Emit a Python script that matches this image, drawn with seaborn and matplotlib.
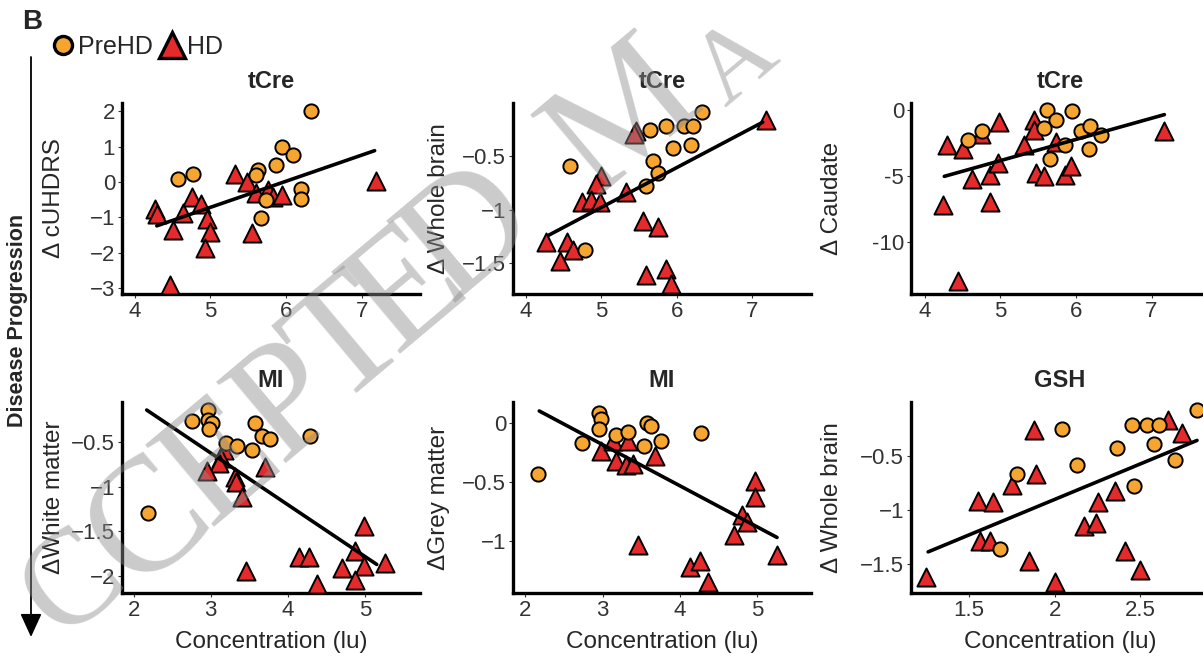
import pandas as pd
import seaborn as sns
import matplotlib.pyplot as plt
from matplotlib.lines import Line2D

# ----- data -----
# tCre vs delta cUHDRS
p1_pre_x = [4.57, 4.77, 6.33, 5.95, 6.09, 5.86, 5.63, 5.60, 6.20, 6.20, 5.74, 5.67]
p1_pre_y = [0.09, 0.24, 2.00, 1.00, 0.77, 0.47, 0.35, 0.21, -0.20, -0.48, -0.50, -1.02]
p1_hd_x = [4.26, 4.29, 4.51, 4.63, 4.75, 4.88, 4.96, 4.99, 4.93, 4.46, 5.32, 5.48, 5.60, 5.76, 5.83, 5.94, 5.55, 7.19]
p1_hd_y = [-0.76, -0.90, -1.35, -0.88, -0.43, -0.61, -1.05, -1.40, -1.87, -2.91, 0.24, 0.00, -0.31, -0.22, -0.41, -0.36, -1.44, 0.02]
p1_fit_x = [4.29, 7.17]
p1_fit_y = [-1.24, 0.89]

# tCre vs delta whole brain
p2_pre_x = [6.33, 5.64, 5.86, 6.09, 6.21, 5.95, 6.19, 5.68, 5.75, 5.59, 4.58, 4.78]
p2_pre_y = [-0.08, -0.25, -0.22, -0.22, -0.22, -0.42, -0.39, -0.54, -0.66, -0.78, -0.59, -1.38]
p2_hd_x = [5.46, 5.44, 7.18, 5.00, 4.93, 5.33, 4.74, 4.87, 4.98, 4.27, 4.54, 4.63, 4.45, 5.55, 5.75, 5.59, 5.86, 5.93]
p2_hd_y = [-0.26, -0.29, -0.16, -0.68, -0.76, -0.83, -0.93, -0.91, -0.93, -1.30, -1.30, -1.38, -1.48, -1.11, -1.16, -1.61, -1.56, -1.70]
p2_fit_x = [4.30, 7.14]
p2_fit_y = [-1.24, -0.18]

# tCre vs delta caudate
p3_pre_x = [5.62, 5.74, 5.95, 5.58, 4.57, 4.76, 6.07, 6.19, 6.33, 5.86, 6.18, 5.66]
p3_pre_y = [0.0, -0.75, -0.08, -1.33, -2.25, -1.55, -1.58, -1.2, -1.88, -2.63, -2.95, -3.68]
p3_hd_x = [4.29, 4.51, 4.75, 4.99, 4.62, 4.86, 4.97, 4.24, 4.86, 4.44, 5.32, 5.45, 5.45, 5.74, 5.47, 5.58, 5.85, 5.94, 7.17]
p3_hd_y = [-2.6, -2.95, -1.8, -0.9, -5.2, -4.9, -4.0, -7.2, -6.95, -12.9, -2.6, -0.75, -1.5, -2.4, -4.75, -5.0, -4.9, -4.2, -1.6]
p3_fit_x = [4.26, 7.17]
p3_fit_y = [-5.0, -0.33]

# MI vs delta white matter
p4_pre_x = [2.76, 2.97, 2.97, 3.01, 2.98, 3.20, 3.34, 3.54, 3.57, 3.66, 3.77, 4.29, 2.19]
p4_pre_y = [-0.26, -0.14, -0.25, -0.29, -0.35, -0.51, -0.54, -0.59, -0.28, -0.43, -0.47, -0.43, -1.29]
p4_hd_x = [3.17, 3.13, 3.10, 2.95, 3.32, 3.33, 3.40, 3.70, 3.45, 4.14, 4.27, 4.37, 4.98, 4.87, 4.70, 4.98, 4.87, 5.26]
p4_hd_y = [-0.59, -0.68, -0.73, -0.82, -0.89, -0.95, -1.11, -0.78, -1.94, -1.79, -1.79, -2.09, -1.44, -1.72, -1.91, -1.89, -2.04, -1.85]
p4_fit_x = [2.17, 5.15]
p4_fit_y = [-0.14, -1.87]

# MI vs delta grey matter
p5_pre_x = [2.95, 2.98, 2.96, 2.74, 3.18, 3.33, 3.57, 3.63, 3.54, 3.76, 4.28, 2.17]
p5_pre_y = [0.08, 0.03, -0.05, -0.17, -0.10, -0.08, 0.0, -0.03, -0.20, -0.15, -0.09, -0.43]
p5_hd_x = [2.98, 3.14, 3.33, 3.17, 3.31, 3.40, 3.68, 3.46, 4.98, 4.98, 4.80, 4.87, 4.70, 4.13, 4.26, 4.37, 5.26]
p5_hd_y = [-0.24, -0.15, -0.15, -0.32, -0.36, -0.35, -0.28, -1.03, -0.49, -0.63, -0.78, -0.84, -0.95, -1.22, -1.17, -1.35, -1.12]
p5_fit_x = [2.18, 5.26]
p5_fit_y = [0.10, -0.97]

# GSH vs delta whole brain
p6_pre_x = [2.83, 2.45, 2.54, 2.61, 2.58, 2.70, 2.36, 2.13, 2.04, 1.78, 2.46, 1.68]
p6_pre_y = [-0.08, -0.22, -0.22, -0.22, -0.39, -0.54, -0.43, -0.59, -0.25, -0.67, -0.78, -1.36]
p6_hd_x = [1.25, 1.55, 1.64, 1.56, 1.62, 1.75, 1.89, 1.88, 1.85, 2.00, 2.17, 2.24, 2.25, 2.35, 2.41, 2.50, 2.66, 2.74]
p6_hd_y = [-1.62, -0.92, -0.93, -1.29, -1.29, -0.77, -0.67, -0.26, -1.47, -1.67, -1.15, -1.12, -0.93, -0.83, -1.38, -1.56, -0.17, -0.29]
p6_fit_x = [1.26, 2.83]
p6_fit_y = [-1.39, -0.36]

titles = ['tCre', 'tCre', 'tCre', 'MI', 'MI', 'GSH']
ylabels = ['\u0394 cUHDRS', '\u0394 Whole brain', '\u0394 Caudate',
           '\u0394White matter', '\u0394Grey matter', '\u0394 Whole brain']
xticks = [[4, 5, 6, 7], [4, 5, 6, 7], [4, 5, 6, 7], [2, 3, 4, 5], [2, 3, 4, 5], [1.5, 2, 2.5]]
xticklabels = [['4', '5', '6', '7']] * 3 + [['2', '3', '4', '5']] * 2 + [['1.5', '2', '2.5']]
yticks = [[-3, -2, -1, 0, 1, 2], [-1.5, -1, -0.5], [-10, -5, 0],
          [-2, -1.5, -1, -0.5], [-1, -0.5, 0], [-1.5, -1, -0.5]]
yticklabels = [['\u22123', '\u22122', '\u22121', '0', '1', '2'],
               ['\u22121.5', '\u22121', '\u22120.5'],
               ['-10', '-5', '0'],
               ['\u22122', '\u22121.5', '\u22121', '\u22120.5'],
               ['\u22121', '\u22120.5', '0'],
               ['\u22121.5', '\u22121', '\u22120.5']]

panels = [
    (p1_pre_x, p1_pre_y, p1_hd_x, p1_hd_y, p1_fit_x, p1_fit_y, (3.83, 7.77), (-3.17, 2.24)),
    (p2_pre_x, p2_pre_y, p2_hd_x, p2_hd_y, p2_fit_x, p2_fit_y, (3.83, 7.78), (-1.79, 0.0)),
    (p3_pre_x, p3_pre_y, p3_hd_x, p3_hd_y, p3_fit_x, p3_fit_y, (3.82, 7.76), (-13.9, 0.55)),
    (p4_pre_x, p4_pre_y, p4_hd_x, p4_hd_y, p4_fit_x, p4_fit_y, (1.85, 5.71), (-2.19, -0.05)),
    (p5_pre_x, p5_pre_y, p5_hd_x, p5_hd_y, p5_fit_x, p5_fit_y, (1.84, 5.70), (-1.44, 0.176)),
    (p6_pre_x, p6_pre_y, p6_hd_x, p6_hd_y, p6_fit_x, p6_fit_y, (1.16, 2.90), (-1.77, -0.005)),
]

ORANGE = '#F7A531'
RED = '#E52A2B'

sns.set_style('ticks')
plt.rcParams['font.family'] = ['Liberation Sans', 'DejaVu Sans']

W, H = 1203, 663
fig = plt.figure(figsize=(W / 100, H / 100), dpi=100)

lefts = [122, 513, 911]
tops = [103, 402]
ax_w, ax_h = 298, 191
label_x = [-0.191, -0.211, -0.228]

for i, (pre_x, pre_y, hd_x, hd_y, fit_x, fit_y, xlim, ylim) in enumerate(panels):
    row, col = divmod(i, 3)
    ax = fig.add_axes([lefts[col] / W, (H - tops[row] - ax_h) / H, ax_w / W, ax_h / H])

    sns.scatterplot(x=hd_x, y=hd_y, marker='^', s=170, color=RED, edgecolor='black',
                    linewidth=1.4, ax=ax, clip_on=False, zorder=3)
    sns.scatterplot(x=pre_x, y=pre_y, marker='o', s=105, color=ORANGE, edgecolor='black',
                    linewidth=1.4, ax=ax, clip_on=False, zorder=3)
    sns.lineplot(x=fit_x, y=fit_y, color='black', linewidth=2.6, ax=ax, zorder=4)

    ax.set_xlim(*xlim)
    ax.set_ylim(*ylim)
    ax.set_xticks(xticks[i])
    ax.set_xticklabels(xticklabels[i])
    ax.set_yticks(yticks[i])
    ax.set_yticklabels(yticklabels[i])
    ax.tick_params(direction='out', length=3, width=0.8, color='#333333',
                   labelsize=16, labelcolor='#333333', pad=2)
    sns.despine(ax=ax)
    for side in ['left', 'bottom']:
        ax.spines[side].set_linewidth(2.4)
        ax.spines[side].set_color('black')

    ax.set_title(titles[i], fontweight='bold', fontsize=17, pad=11)
    ax.set_ylabel(ylabels[i], fontsize=17.5)
    ax.yaxis.set_label_coords(label_x[col], 0.5)
    if row == 1:
        ax.set_xlabel('Concentration (lu)', fontsize=17.5, va='top')
        ax.xaxis.set_label_coords(0.5, -0.20)
    else:
        ax.set_xlabel('')

# panel letter, legend, progression arrow
fig.text(22 / W, (H - 29) / H, 'B', fontsize=20, fontweight='bold', va='baseline')

handles = [Line2D([], [], marker='o', linestyle='none', markersize=13, markerfacecolor=ORANGE,
                  markeredgecolor='black', markeredgewidth=2.4),
           Line2D([], [], marker='^', linestyle='none', markersize=19, markerfacecolor=RED,
                  markeredgecolor='black', markeredgewidth=2.4)]
fig.legend(handles, ['PreHD', 'HD'], loc='center left', bbox_to_anchor=(50 / W, (H - 47) / H),
           ncol=2, frameon=False, fontsize=18, handletextpad=0.1, columnspacing=0.3,
           handlelength=1.0, borderpad=0, borderaxespad=0)

fig.axes[0].annotate('', xy=(31 / W, (H - 637) / H), xytext=(31 / W, (H - 57) / H),
                     xycoords='figure fraction', textcoords='figure fraction', annotation_clip=False,
                     arrowprops=dict(arrowstyle='-|>,head_length=0.72,head_width=0.33',
                                     lw=1.3, color='black', mutation_scale=20, shrinkA=0, shrinkB=0))
fig.text(18 / W, (H - 320) / H, 'Disease Progression', rotation=90, fontsize=15.5,
         fontweight='bold', ha='center', va='center')

# "ACCEPTED MANUSCRIPT" watermark, visible letters only (edge letters kept inside the frame)
wm_letters = ['C', 'C', 'E', 'P', 'T', 'E', 'D', 'M', 'A']
wm_px = [(74, 586), (150, 525), (222, 465), (290, 405), (350, 345), (408, 292), (470, 235), (625, 120), (738, 64)]
wm_size = [98, 118, 118, 118, 118, 118, 118, 118, 74]
for letter, (px, py), size in zip(wm_letters, wm_px, wm_size):
    fig.text(px / W, (H - py) / H, letter, rotation=40, rotation_mode='anchor',
             ha='center', va='center', fontsize=size, family=['Liberation Serif', 'DejaVu Serif'],
             color='#8c8c8c', alpha=0.45, zorder=10)

fig.savefig('out.png', dpi=100)
